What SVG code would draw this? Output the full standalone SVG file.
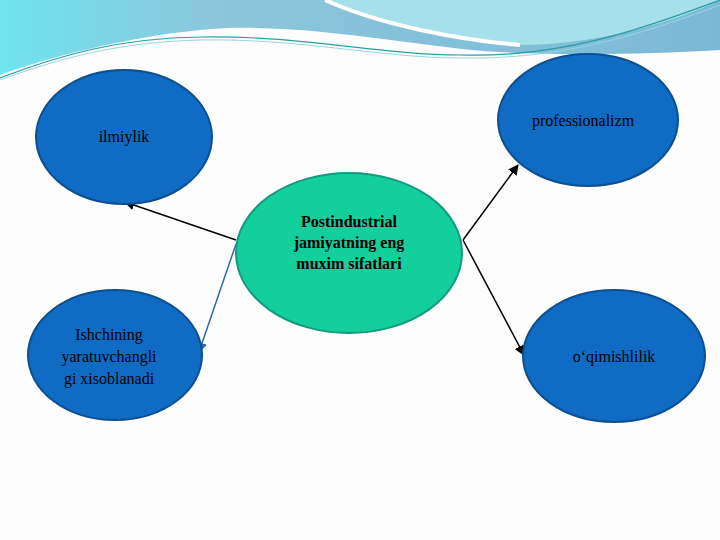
<svg xmlns="http://www.w3.org/2000/svg" width="720" height="540" viewBox="0 0 720 540">
<style>
.n{fill:#0f6bc4;stroke:#0d4f8f;stroke-width:2}
.t{font-family:"Liberation Serif",serif;font-size:16px;fill:#000;text-anchor:middle}
.b{font-weight:bold}
</style>
<defs>
<marker id="a" viewBox="0 0 10 10" refX="9" refY="5" markerWidth="7" markerHeight="7" orient="auto"><path d="M0,0L10,5L0,10z" fill="#000"/></marker>
<marker id="ab" viewBox="0 0 10 10" refX="9" refY="5" markerWidth="7" markerHeight="7" orient="auto"><path d="M0,0L10,5L0,10z" fill="#2a6aa8"/></marker>
<linearGradient id="g" x1="0" y1="0" x2="1" y2="0"><stop offset="0" stop-color="#6fe3ee"/><stop offset="0.3" stop-color="#8cc6dc"/><stop offset="1" stop-color="#7ab9d6"/></linearGradient>
</defs>
<rect width="720" height="540" fill="#fdfdfd"/>
<g id="header">
<path d="M0,0H720V50C640,55 560,55 500,52C420,48 300,20 200,30C120,38 40,60 0,75Z" fill="url(#g)"/>
<path d="M325,0C380,25 460,40 520,45C600,45 680,20 720,0Z" fill="#a6e0ea"/>
<path d="M325,0C380,25 460,40 520,45" fill="none" stroke="#fff" stroke-width="4"/>
<path d="M0,78C60,55 120,38 200,37C300,35 380,55 460,55C560,58 640,30 720,0" fill="none" stroke="#2a9ea6" stroke-width="1.2"/>
<path d="M0,80C60,58 120,42 200,40C300,38 380,58 460,58C560,60 640,35 720,5" fill="none" stroke="#9ad6dc" stroke-width="1"/>
</g>
<g id="connectors">
<line x1="236" y1="240" x2="125" y2="202" stroke="#000" stroke-width="1.5" marker-end="url(#a)"/>
<line x1="236" y1="244" x2="199" y2="352" stroke="#2a6aa8" stroke-width="1.5" marker-end="url(#ab)"/>
<line x1="463" y1="240" x2="518" y2="165" stroke="#000" stroke-width="1.5" marker-end="url(#a)"/>
<line x1="463" y1="240" x2="524" y2="355" stroke="#000" stroke-width="1.5" marker-end="url(#a)"/>
</g>
<g id="center"><ellipse cx="349" cy="253" rx="113" ry="80" fill="#12cf9b" stroke="#159a80" stroke-width="2"/>
<text class="t b" x="349" y="227">Postindustrial</text><text class="t b" x="349" y="248">jamiyatning eng</text><text class="t b" x="349" y="269">muxim sifatlari</text></g>
<g id="ilmiylik"><ellipse class="n" cx="124" cy="137" rx="88" ry="67"/><text class="t" x="124" y="142">ilmiylik</text></g>
<g id="prof"><ellipse class="n" cx="588" cy="120" rx="90" ry="66"/><text class="t" x="583" y="126">professionalizm</text></g>
<g id="ishchi"><ellipse class="n" cx="115" cy="355" rx="87" ry="65"/><text class="t" x="109" y="340">Ishchining</text><text class="t" x="109" y="362">yaratuvchangli</text><text class="t" x="109" y="384">gi xisoblanadi</text></g>
<g id="oqish"><ellipse class="n" cx="614" cy="356" rx="91" ry="66"/><text class="t" x="614" y="362">o‘qimishlilik</text></g>
</svg>
